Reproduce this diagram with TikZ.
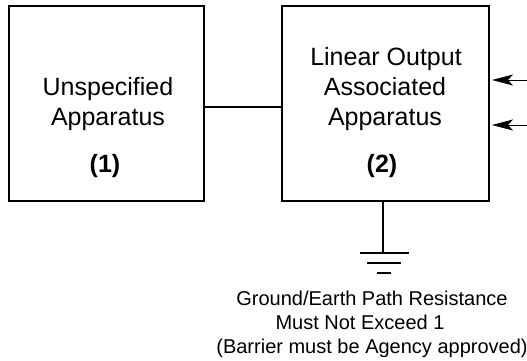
\documentclass[tikz,border=0pt]{standalone}
\usepackage{fontspec}
\setmainfont{Liberation Sans}
\usetikzlibrary{arrows.meta}
\begin{document}
\begin{tikzpicture}[x=1pt,y=-1pt]

  \tikzstyle{apparatus}=[draw=black,line width=1.6pt,minimum width=195pt,minimum height=195pt,inner sep=0pt]
  \tikzstyle{boxtext}=[font=\fontsize{25}{30}\selectfont,anchor=base,inner sep=0pt]
  \tikzstyle{note}=[font=\fontsize{20}{24}\selectfont,anchor=base,inner sep=0pt]
  \tikzstyle{wire}=[line width=1.3pt]
  \tikzstyle{feed}=[line width=1pt,{Stealth[length=21pt,width=11pt,inset=5pt]}-]

  \useasboundingbox (0,0) rectangle (527,360);

  \node[apparatus] (unspec) at (106.5,103.5) {};
  \node[apparatus,minimum width=207pt] (linear) at (385.5,103.5) {};

  \node[boxtext] (unspec1) at (108,95) {Unspecified};
  \node[boxtext] (unspec2) at (108,125) {Apparatus};
  \node[boxtext] (unspec3) at (105,172) {\textbf{(1)}};

  \node[boxtext] (linear1) at (386,65) {Linear Output};
  \node[boxtext] (linear2) at (385,95) {Associated};
  \node[boxtext] (linear3) at (385,125) {Apparatus};
  \node[boxtext] (linear4) at (382,172) {\textbf{(2)}};

  \coordinate (in1) at (527,80);
  \coordinate (tip1) at (492,80);
  \coordinate (in2) at (527,125);
  \coordinate (tip2) at (492,125);

  \draw[wire] (unspec.east |- 0,107) -- (linear.west |- 0,107);
  \draw[feed] (tip1) -- (in1);
  \draw[feed] (tip2) -- (in2);

  % ground symbol
  \coordinate (gnd) at (383,253);
  \coordinate (gnd1a) at (360,253);
  \coordinate (gnd1b) at (409,253);
  \coordinate (gnd2a) at (367,263);
  \coordinate (gnd2b) at (401,263);
  \coordinate (gnd3a) at (377,273);
  \coordinate (gnd3b) at (391,273);

  \draw[wire] (gnd |- linear.south) -- (gnd);
  \draw[wire] (gnd1a) -- (gnd1b);
  \draw[wire] (gnd2a) -- (gnd2b);
  \draw[wire] (gnd3a) -- (gnd3b);

  \node[note] (res1) at (372,305) {Ground/Earth Path Resistance};
  \node[note] (res2) at (360,329) {Must Not Exceed 1};
  \node[note] (res3) at (372,353) {(Barrier must be Agency approved)};

\end{tikzpicture}
\end{document}
